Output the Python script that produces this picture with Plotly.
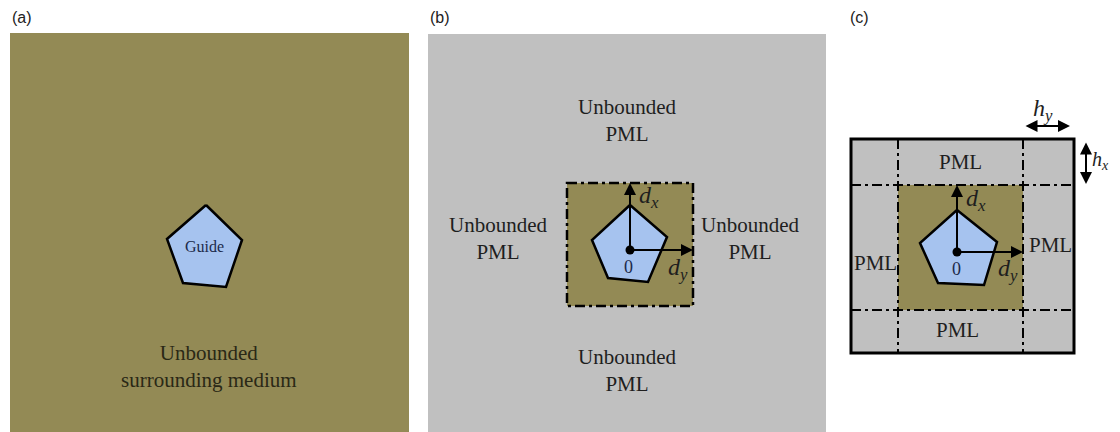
import plotly.graph_objects as go

# ---------------- data (diagram geometry, in pixel-like units) ----------------
OLIVE = "#938a55"
GRAY = "#c0c0c0"
BLUE = "#a6c3ef"

panel_labels = ["(a)", "(b)", "(c)"]
panel_label_x = [10, 428, 848]

# panel background rectangles: x0, y0, x1, y1
panel_a_rect = [10, 33, 409, 432]
panel_b_rect = [428, 34, 826, 432]
panel_c_box = [851, 139, 1074, 353]

# pentagon vertices (x list, y list)
pent_a_x = [206, 242, 226, 183, 167]
pent_a_y = [205, 240, 287, 283, 239]
pent_b_x = [630, 667, 648, 608, 592]
pent_b_y = [205, 237, 282, 278, 240]
pent_c_x = [957, 997, 984, 938, 920]
pent_c_y = [210, 242, 285, 283, 243]

# computational window (olive square) in b and c
win_b = [567, 183, 693, 306]
win_c = [898, 185, 1023, 310]

# origin dots
origin_x = [630, 957]
origin_y = [250, 252]

texts_b = ["Unbounded<br>PML"] * 4
texts_b_x = [627, 498, 750, 627]
texts_b_y = [120, 238, 238, 370]

texts_c = ["PML"] * 4
texts_c_x = [960, 875, 1050, 957]
texts_c_y = [162, 263, 245, 330]

SERIF = "Liberation Serif, Times New Roman, serif"
PAGE_OFFSET = 8  # default body margin of the html page
W, H = 1120, 432

fig = go.Figure()
shapes = []
ann = []

def rect(r, fill):
    return dict(type="rect", x0=r[0], y0=r[1], x1=r[2], y1=r[3], fillcolor=fill,
                layer="below", line=dict(width=0, color=fill))

DASHDOT = "10px,4px,3px,4px"

shapes.append(rect(panel_a_rect, OLIVE))
shapes.append(rect(panel_b_rect, GRAY))
shapes.append(rect(win_b, OLIVE))
shapes.append(rect(panel_c_box, GRAY))
shapes.append(rect(win_c, OLIVE))

shapes.append(dict(type="rect", x0=win_b[0], y0=win_b[1], x1=win_b[2], y1=win_b[3],
                   line=dict(color="black", width=2.5, dash=DASHDOT), layer="above"))
for xv in [win_c[0], win_c[2]]:
    shapes.append(dict(type="line", x0=xv, x1=xv, y0=panel_c_box[1], y1=panel_c_box[3],
                       line=dict(color="black", width=2, dash=DASHDOT)))
for yv in [win_c[1], win_c[3]]:
    shapes.append(dict(type="line", y0=yv, y1=yv, x0=panel_c_box[0], x1=panel_c_box[2],
                       line=dict(color="black", width=2, dash=DASHDOT)))
shapes.append(dict(type="rect", x0=panel_c_box[0], y0=panel_c_box[1], x1=panel_c_box[2],
                   y1=panel_c_box[3], line=dict(color="black", width=3)))

for px, py in [(pent_a_x, pent_a_y), (pent_b_x, pent_b_y), (pent_c_x, pent_c_y)]:
    fig.add_trace(go.Scatter(x=px + [px[0]], y=py + [py[0]], mode="lines", fill="toself",
                             fillcolor=BLUE, line=dict(color="black", width=2.5),
                             hoverinfo="skip", showlegend=False))

for ox, oy, w in [(origin_x[0], origin_y[0], win_b), (origin_x[1], origin_y[1], win_c)]:
    ann.append(dict(x=ox, y=w[1], ax=ox, ay=oy, xref="x", yref="y", axref="x", ayref="y",
                    showarrow=True, arrowhead=2, arrowsize=1.2, arrowwidth=2, arrowcolor="black", text=""))
    ann.append(dict(x=w[2], y=oy, ax=ox, ay=oy, xref="x", yref="y", axref="x", ayref="y",
                    showarrow=True, arrowhead=2, arrowsize=1.2, arrowwidth=2, arrowcolor="black", text=""))

fig.add_trace(go.Scatter(x=origin_x, y=origin_y, mode="markers",
                         marker=dict(color="black", size=9), hoverinfo="skip", showlegend=False))

ann.append(dict(x=1070, y=126, ax=1024, ay=126, xref="x", yref="y", axref="x", ayref="y",
                showarrow=True, arrowhead=2, startarrowhead=2, arrowside="end+start",
                arrowsize=1.2, arrowwidth=2, arrowcolor="black", text=""))
ann.append(dict(x=1086, y=184, ax=1086, ay=141, xref="x", yref="y", axref="x", ayref="y",
                showarrow=True, arrowhead=2, startarrowhead=2, arrowside="end+start",
                arrowsize=1.2, arrowwidth=2, arrowcolor="black", text=""))

def label(x, y, t, size=21, color="#1e1e1e", font=SERIF, xanchor="center"):
    ann.append(dict(x=x, y=y, text=t, showarrow=False, xref="x", yref="y",
                    xanchor=xanchor, yanchor="middle",
                    font=dict(family=font, size=size, color=color)))

italic = lambda a, b: f"<i>{a}</i><sub><i>{b}</i></sub>"

for t, x in zip(panel_labels, panel_label_x):
    label(x, 17, t, size=16, color="#222", font="Liberation Sans, Arial, sans-serif", xanchor="left")

label(204, 246, "Guide", size=16, color="#1c2a4a")
label(209, 366, "Unbounded<br>surrounding medium", size=21, color="#2a2816")

for t, x, y in zip(texts_b, texts_b_x, texts_b_y):
    label(x, y, t, size=21)
label(649, 197, italic("d", "x"), size=24)
label(678, 269, italic("d", "y"), size=24)
label(628, 267, "0", size=18, color="#1c2a4a")

for t, x, y in zip(texts_c, texts_c_x, texts_c_y):
    label(x, y, t, size=21)
label(976, 200, italic("d", "x"), size=24)
label(1008, 270, italic("d", "y"), size=24)
label(956, 269, "0", size=18, color="#1c2a4a")
label(1043, 110, italic("h", "y"), size=24)
label(1111, 160, italic("h", "x"), size=20, xanchor="right")

fig.update_layout(
    width=W - PAGE_OFFSET, height=H - PAGE_OFFSET, margin=dict(l=0, r=0, t=0, b=0),
    paper_bgcolor="white", plot_bgcolor="white",
    xaxis=dict(range=[PAGE_OFFSET, W], visible=False, fixedrange=True),
    yaxis=dict(range=[H, PAGE_OFFSET], visible=False, fixedrange=True),
    shapes=shapes, annotations=ann, showlegend=False,
)
fig.write_html("out.html")
